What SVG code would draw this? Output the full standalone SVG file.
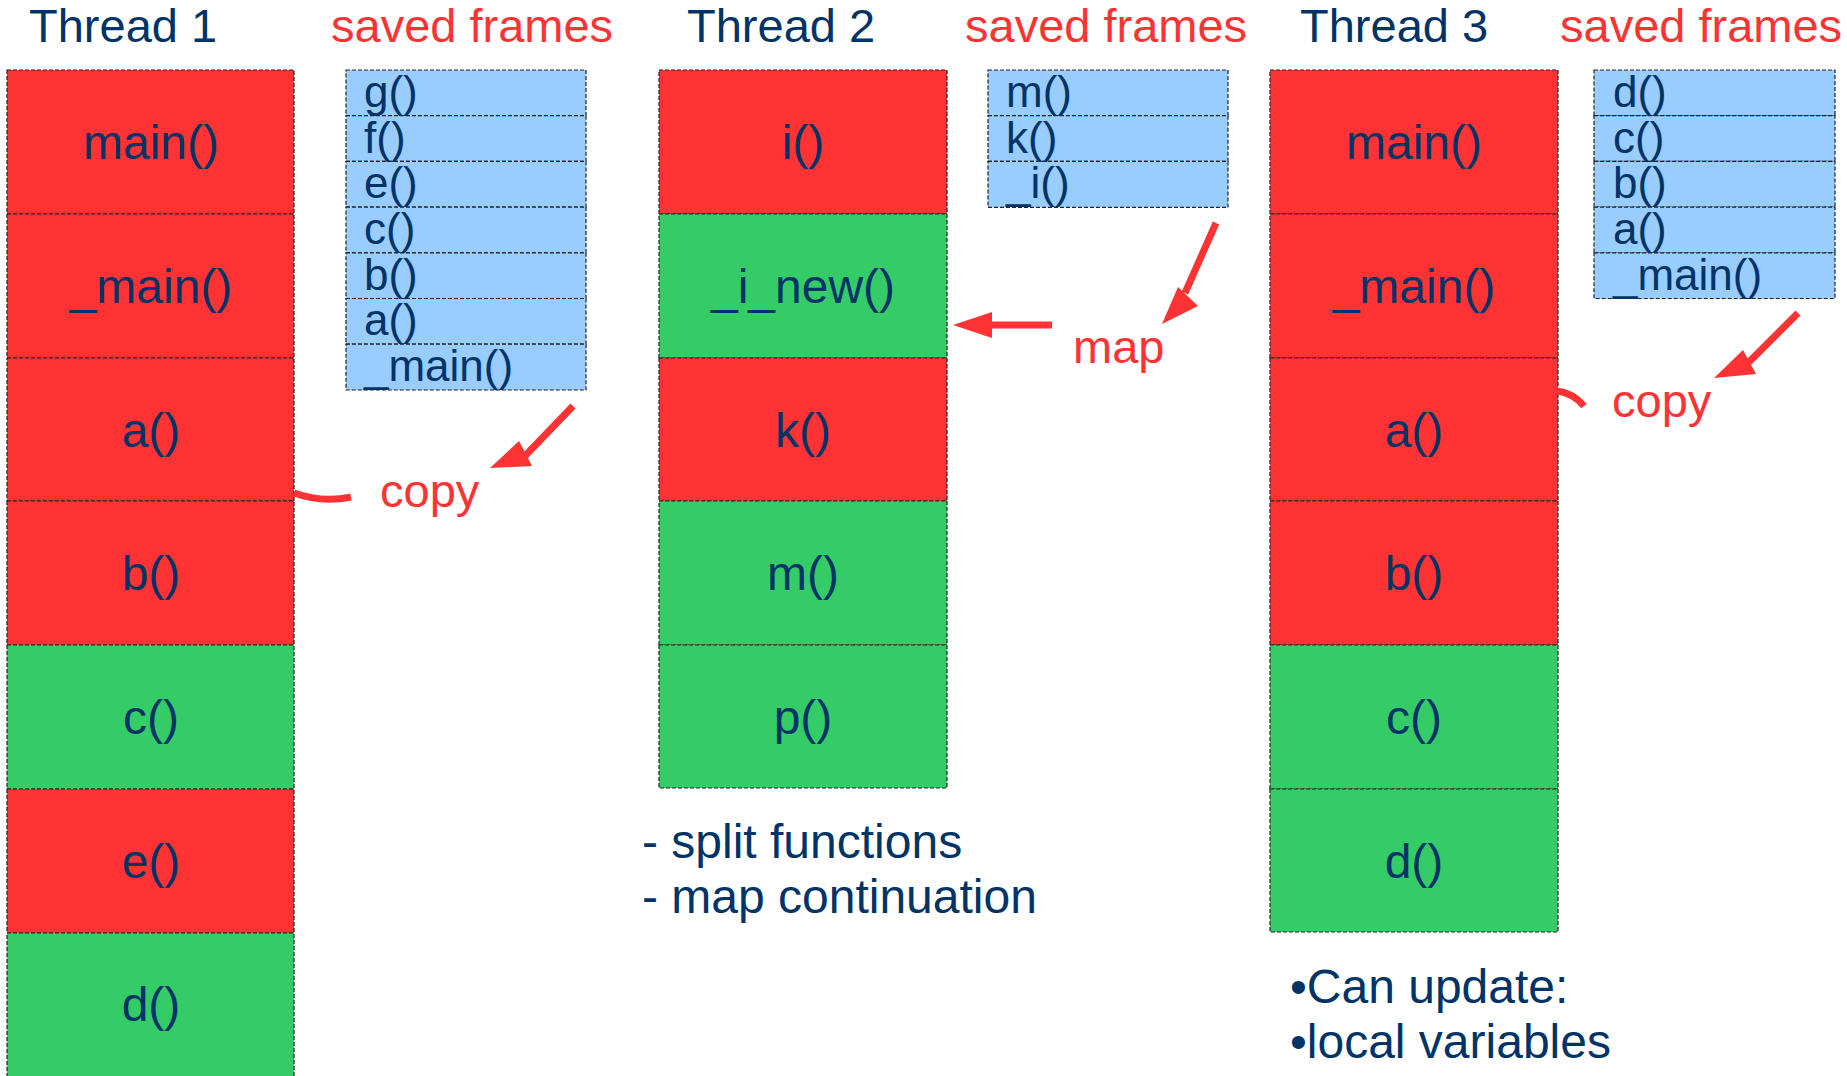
<svg xmlns="http://www.w3.org/2000/svg" width="1847" height="1076" viewBox="0 0 1847 1076">
<style>
text{font-family:"Liberation Sans",Arial,sans-serif}
.red{fill:#FF3333}
.green{fill:#33CC66}
.blue{fill:#99CCFF}
.box{stroke:#222;stroke-width:1.2;stroke-dasharray:4 2}
.lbl{font-size:48px;fill:#003366;text-anchor:middle}
.sf{font-size:44px;fill:#003366}
.title{font-size:47px;fill:#003366}
.rtitle{font-size:47px;fill:#FF3333}
.note{font-size:48px;fill:#003366}
.conn{stroke:#FF3333;stroke-width:7;fill:none}
.head{fill:#FF3333}
</style>
<g id="titles">
<text class="title" x="29" y="42">Thread 1</text>
<text class="rtitle" x="331" y="42">saved frames</text>
<text class="title" x="687" y="42">Thread 2</text>
<text class="rtitle" x="965" y="42">saved frames</text>
<text class="title" x="1300" y="42">Thread 3</text>
<text class="rtitle" x="1560" y="42">saved frames</text>
</g>
<g id="thread1">
<rect class="red box" x="7" y="70" width="287" height="144"/>
<rect class="red box" x="7" y="214" width="287" height="144"/>
<rect class="red box" x="7" y="358" width="287" height="143"/>
<rect class="red box" x="7" y="501" width="287" height="144"/>
<rect class="green box" x="7" y="645" width="287" height="144"/>
<rect class="red box" x="7" y="789" width="287" height="144"/>
<rect class="green box" x="7" y="933" width="287" height="160"/>
<text class="lbl" x="151" y="159">main()</text>
<text class="lbl" x="151" y="303">_main()</text>
<text class="lbl" x="151" y="447">a()</text>
<text class="lbl" x="151" y="590">b()</text>
<text class="lbl" x="151" y="734">c()</text>
<text class="lbl" x="151" y="878">e()</text>
<text class="lbl" x="151" y="1021">d()</text>
</g>
<g id="saved1">
<rect class="blue box" x="346" y="70" width="240" height="45.7"/>
<rect class="blue box" x="346" y="115.7" width="240" height="45.7"/>
<rect class="blue box" x="346" y="161.4" width="240" height="45.7"/>
<rect class="blue box" x="346" y="207.1" width="240" height="45.7"/>
<rect class="blue box" x="346" y="252.8" width="240" height="45.7"/>
<rect class="blue box" x="346" y="298.5" width="240" height="45.7"/>
<rect class="blue box" x="346" y="344.2" width="240" height="45.8"/>
<text class="sf" x="364" y="107">g()</text>
<text class="sf" x="364" y="153">f()</text>
<text class="sf" x="364" y="198">e()</text>
<text class="sf" x="364" y="244">c()</text>
<text class="sf" x="364" y="290">b()</text>
<text class="sf" x="364" y="335">a()</text>
<text class="sf" x="364" y="381">_main()</text>
</g>
<g id="thread2">
<rect class="red box" x="659" y="70" width="288" height="144"/>
<rect class="green box" x="659" y="214" width="288" height="144"/>
<rect class="red box" x="659" y="358" width="288" height="143"/>
<rect class="green box" x="659" y="501" width="288" height="144"/>
<rect class="green box" x="659" y="645" width="288" height="143"/>
<text class="lbl" x="803" y="159">i()</text>
<text class="lbl" x="803" y="303">_i_new()</text>
<text class="lbl" x="803" y="447">k()</text>
<text class="lbl" x="803" y="590">m()</text>
<text class="lbl" x="803" y="734">p()</text>
</g>
<g id="saved2">
<rect class="blue box" x="988" y="70" width="240" height="45.7"/>
<rect class="blue box" x="988" y="115.7" width="240" height="45.7"/>
<rect class="blue box" x="988" y="161.4" width="240" height="46"/>
<text class="sf" x="1006" y="107">m()</text>
<text class="sf" x="1006" y="153">k()</text>
<text class="sf" x="1006" y="198">_i()</text>
</g>
<g id="thread3">
<rect class="red box" x="1270" y="70" width="288" height="144"/>
<rect class="red box" x="1270" y="214" width="288" height="144"/>
<rect class="red box" x="1270" y="358" width="288" height="143"/>
<rect class="red box" x="1270" y="501" width="288" height="144"/>
<rect class="green box" x="1270" y="645" width="288" height="144"/>
<rect class="green box" x="1270" y="789" width="288" height="143"/>
<text class="lbl" x="1414" y="159">main()</text>
<text class="lbl" x="1414" y="303">_main()</text>
<text class="lbl" x="1414" y="447">a()</text>
<text class="lbl" x="1414" y="590">b()</text>
<text class="lbl" x="1414" y="734">c()</text>
<text class="lbl" x="1414" y="878">d()</text>
</g>
<g id="saved3">
<rect class="blue box" x="1594" y="70" width="241" height="45.7"/>
<rect class="blue box" x="1594" y="115.7" width="241" height="45.7"/>
<rect class="blue box" x="1594" y="161.4" width="241" height="45.7"/>
<rect class="blue box" x="1594" y="207.1" width="241" height="45.7"/>
<rect class="blue box" x="1594" y="252.8" width="241" height="45.7"/>
<text class="sf" x="1613" y="107">d()</text>
<text class="sf" x="1613" y="153">c()</text>
<text class="sf" x="1613" y="198">b()</text>
<text class="sf" x="1613" y="244">a()</text>
<text class="sf" x="1613" y="290">_main()</text>
</g>
<g id="connectors">
<path class="conn" d="M573,406 L523,458"/>
<polygon class="head" points="490,468 519,441 532,466"/>
<path class="conn" d="M294,493 Q322,503 351,497"/>
<path class="conn" d="M1216,223 L1185,293"/>
<polygon class="head" points="1162,324 1178,287 1198,306"/>
<path class="conn" d="M1052,325 L990,325"/>
<polygon class="head" points="953,325 992,312 992,338"/>
<path class="conn" d="M1798,313 L1747,364"/>
<polygon class="head" points="1714,378 1743,350 1756,374"/>
<path class="conn" d="M1557,391 Q1573,393 1584,406"/>
</g>
<g id="labels">
<text class="rtitle" x="380" y="507">copy</text>
<text class="rtitle" x="1073" y="363">map</text>
<text class="rtitle" x="1612" y="417">copy</text>
</g>
<g id="notes">
<text class="note" x="642" y="858">- split functions</text>
<text class="note" x="642" y="913">- map continuation</text>
<text class="note" x="1290" y="1003">•Can update:</text>
<text class="note" x="1290" y="1058">•local variables</text>
</g>
</svg>
